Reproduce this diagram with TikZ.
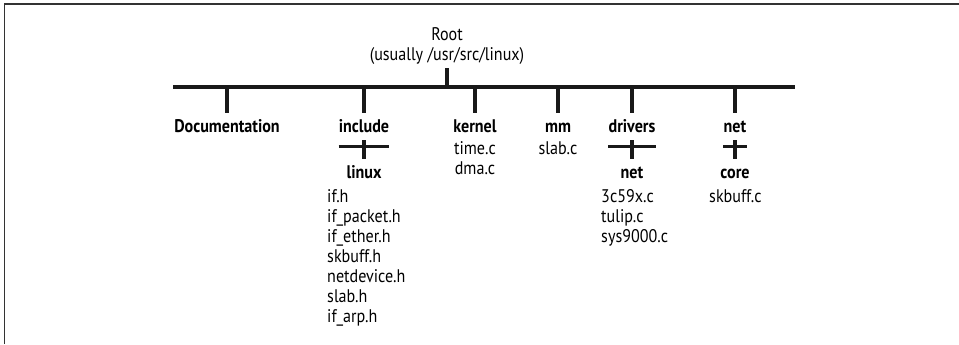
\documentclass[tikz,border=0pt]{standalone}
\usepackage{fontspec}
\setmainfont{PT Sans}[FakeStretch=0.88]
\usetikzlibrary{calc}

\begin{document}
\begin{tikzpicture}
    \tikzstyle{edge}  = [line width=2.6pt,draw=black!90]
    \tikzstyle{frame} = [line width=1.3pt,draw=black!80]
    \tikzstyle{dir}=[
      font=\bfseries,
      anchor=north,
      inner xsep=0pt,
      inner ysep=0.21cm,
      text height=0.38cm,
      text depth=0pt,
    ]
    \tikzstyle{file}=[
      align=left,
      anchor=north west,
      inner sep=0pt,
    ]
    \tikzstyle{cfile}=[
      align=center,
      anchor=north,
      inner sep=0pt,
    ]

    \useasboundingbox (0,0) rectangle (28.77,-10.32);
    \fontsize{15.6}{17.07}\selectfont

    % frame
    {
      \draw[frame] (0.135,-10.32) -- (0.135,-0.12) -- (28.77,-0.12);
    }

    \coordinate (busLeft) at (5.19,-2.61);
    \coordinate (busRight) at (23.85,-2.61);

    % root
    {
      \node[align=center, anchor=south, inner sep=0.1cm] (root) at (13.41,-2.04) {Root\\(usually /usr/src/linux)};
      \draw[edge] (busLeft) -- (busRight);
      \draw[edge] (root) -- (root |- busLeft);
    }

    % first level
    {
      \node[dir] (docDir) at (6.81,-3.39) {Documentation};
      \node[dir] (includeDir) at (10.92,-3.39) {include};
      \node[dir] (kernelDir) at (14.25,-3.39) {kernel};
      \node[dir] (mmDir) at (16.74,-3.39) {mm};
      \node[dir] (driversDir) at (18.96,-3.39) {drivers};
      \node[dir] (netDir) at (22.05,-3.39) {net};

      \draw[edge] (docDir |- busLeft) -- (docDir);
      \draw[edge] (includeDir |- busLeft) -- (includeDir);
      \draw[edge] (kernelDir |- busLeft) -- (kernelDir);
      \draw[edge] (mmDir |- busLeft) -- (mmDir);
      \draw[edge] (driversDir |- busLeft) -- (driversDir);
      \draw[edge] (netDir |- busLeft) -- (netDir);
    }

    % second level
    {
      \node[dir] (linuxDir) at (10.92,-4.77) {linux};
      \node[dir] (driversNetDir) at (18.96,-4.77) {net};
      \node[dir] (coreDir) at (22.05,-4.77) {core};

      \draw[edge] ([yshift=-0.18cm]includeDir.south west) -- ([yshift=-0.18cm]includeDir.south east);
      \draw[edge] ([yshift=-0.18cm]driversDir.south west) -- ([yshift=-0.18cm]driversDir.south east);
      \draw[edge] ([yshift=-0.18cm]netDir.south west) -- ([yshift=-0.18cm]netDir.south east);

      \draw[edge] (includeDir) -- (linuxDir);
      \draw[edge] (driversDir) -- (driversNetDir);
      \draw[edge] (netDir) -- (coreDir);
    }

    % files
    {
      \node[cfile] (kernelFiles) at (14.25,-4.24) {time.c\\dma.c};
      \node[cfile] (mmFiles) at (16.74,-4.24) {slab.c};
      \node[file] (linuxFiles) at (9.81,-5.67) {if.h\\if\_packet.h\\if\_ether.h\\skbuff.h\\netdevice.h\\slab.h\\if\_arp.h};
      \node[file] (driversNetFiles) at (18.03,-5.67) {3c59x.c\\tulip.c\\sys9000.c};
      \node[file] (coreFiles) at (21.27,-5.67) {skbuff.c};
    }
\end{tikzpicture}
\end{document}
